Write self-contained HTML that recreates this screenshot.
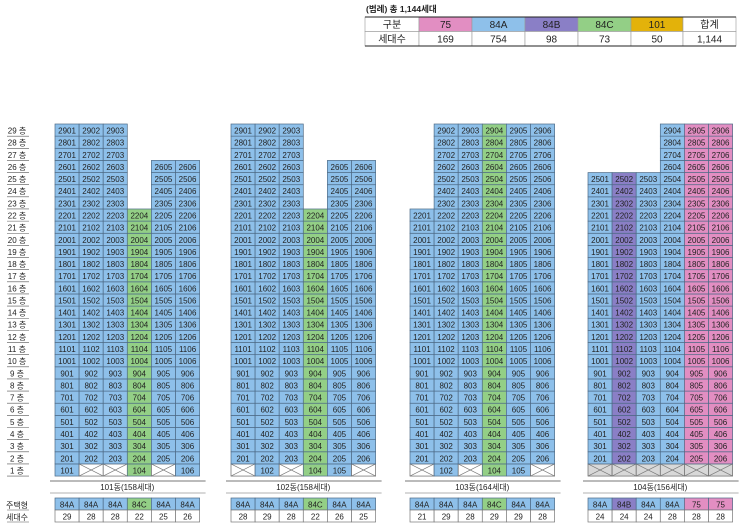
<!DOCTYPE html>
<html><head><meta charset="utf-8">
<style>
body{margin:0;background:#fff;width:740px;height:527px;overflow:hidden;font-family:"Liberation Sans","Noto Sans CJK KR",sans-serif;}
svg text{font-family:"Liberation Sans Narrow","Liberation Sans","Noto Sans CJK KR",sans-serif;}
</style></head>
<body>
<svg id="chart" width="740" height="527" viewBox="0 0 740 527"></svg>
<script>
// ---- data ----
const legendTypes = ["75","84A","84B","84C","101"];
const legendCounts = ["169","754","98","73","50"];
const legendTotal = "1,144";
const buildingNames = ["101동(158세대)","102동(158세대)","103동(164세대)","104동(156세대)"];
const colTop101 = [29,29,29,22,26,26];
const colTop102 = [29,29,29,22,26,26];
const colTop103 = [22,29,29,29,29,29];
const colTop104 = [25,25,25,29,29,29];
const colType101 = ["84A","84A","84A","84C","84A","84A"];
const colType102 = ["84A","84A","84A","84C","84A","84A"];
const colType103 = ["84A","84A","84A","84C","84A","84A"];
const colType104 = ["84A","84B","84A","84A","75","75"];
const colCount101 = [29,28,28,22,25,26];
const colCount102 = [28,29,28,22,26,25];
const colCount103 = [21,29,28,29,29,28];
const colCount104 = [24,24,24,28,28,28];
// 1st floor: 1 = unit, 0 = empty (X)
const floor1_101 = [1,0,0,1,0,1];
const floor1_102 = [0,1,0,1,1,0];
const floor1_103 = [0,1,0,1,1,0];
const floor1_104 = [0,0,0,0,0,0];

const colors = {"75":"#e28ec2","84A":"#8ec0ea","84B":"#8a7fc6","84C":"#93cf86","101":"#e3b20a"};
const NS="http://www.w3.org/2000/svg";
const svg=document.getElementById('chart');
function el(tag,attrs,parent){const e=document.createElementNS(NS,tag);for(const k in attrs)e.setAttribute(k,attrs[k]);(parent||svg).appendChild(e);return e;}
function txt(x,y,s,size,parent,anchor,weight){const t=el('text',{x:x,y:y,'font-size':size,'text-anchor':anchor||'middle','fill':'#222','font-weight':weight||'normal'},parent);t.textContent=s;return t;}

// ---- legend ----
const lg=el('g',{});


const lt=txt(366,12,"(범례) 총 1,144세대",8.5,lg,'start','bold');


const lx=[365,419,472,525,578,631,683,736];
const ly0=17, lrh=14.5;
for(let i=0;i<7;i++){
  const x=lx[i],w=lx[i+1]-lx[i];
  const fill=(i>=1&&i<=5)?colors[legendTypes[i-1]]:'#fff';
  const r1=el('rect',{x:x,y:ly0,width:w,height:lrh,fill:fill,stroke:'#999','stroke-width':0.6},lg);
  
  
  el('rect',{x:x,y:ly0+lrh,width:w,height:lrh,fill:'#fff',stroke:'#999','stroke-width':0.6},lg);
  const h=i==0?"구분":(i==6?"합계":legendTypes[i-1]);
  const c=i==0?"세대수":(i==6?legendTotal:legendCounts[i-1]);
  txt(x+w/2,ly0+11,h,10,lg);
  txt(x+w/2,ly0+lrh+11,c,10,lg);
}
el('line',{x1:365,y1:ly0,x2:736,y2:ly0,stroke:'#222','stroke-width':1},lg);
el('line',{x1:365,y1:ly0+2*lrh,x2:736,y2:ly0+2*lrh,stroke:'#222','stroke-width':1},lg);

// ---- axis functions ----
const rowTop=124, rowH=12.14, colW=24.1;
function yFloor(f){return rowTop+(29-f)*rowH;}
const bx=[55,231,410,588];

// floor labels
for(let f=29;f>=1;f--){
  const y=yFloor(f);
  const t=txt(17,y+9.5,f+" 층",8,svg);
  
  
  el('line',{x1:7,y1:y+rowH,x2:29,y2:y+rowH,stroke:'#555','stroke-width':0.6});
}
const l1=txt(17,508,"주택형",8,svg);
el('line',{x1:7,y1:510,x2:29,y2:510,stroke:'#555','stroke-width':0.6});
const l2=txt(17,520,"세대수",8,svg);
el('line',{x1:7,y1:522,x2:29,y2:522,stroke:'#555','stroke-width':0.6});

const tops=[colTop101,colTop102,colTop103,colTop104];
const types=[colType101,colType102,colType103,colType104];
const counts=[colCount101,colCount102,colCount103,colCount104];
const f1=[floor1_101,floor1_102,floor1_103,floor1_104];

for(let b=0;b<4;b++){
  const g=el('g',{});
  
  
  const x0=bx[b];
  for(let c=0;c<6;c++){
    const x=x0+c*colW;
    for(let f=1;f<=tops[b][c];f++){
      const y=yFloor(f);
      const unit=(f>1)||f1[b][c]===1;
      if(unit){
        const r=el('rect',{x:x,y:y,width:colW,height:rowH,fill:colors[types[b][c]],stroke:'#4d6a86','stroke-width':0.7},g);
        
        
        txt(x+colW/2,y+9.5,String(f*100+c+1),8,g);
      }else{
        const fill=b===3?'#d8d8d8':'#fff';
        const r=el('rect',{x:x,y:y,width:colW,height:rowH,fill:fill,stroke:'#666','stroke-width':0.7},g);
        
        
        el('line',{x1:x,y1:y,x2:x+colW,y2:y+rowH,stroke:'#777','stroke-width':0.6},g);
        el('line',{x1:x,y1:y+rowH,x2:x+colW,y2:y,stroke:'#777','stroke-width':0.6},g);
      }
    }
    // bottom type/count
    const r1=el('rect',{x:x,y:498,width:colW,height:12,fill:colors[types[b][c]],stroke:'#4d6a86','stroke-width':0.7},g);
    
    
    txt(x+colW/2,507.5,types[b][c],8,g);
    const r2=el('rect',{x:x,y:510,width:colW,height:12,fill:'#fff',stroke:'#777','stroke-width':0.7},g);
    
    
    txt(x+colW/2,519.5,String(counts[b][c]),8,g);
  }
  // caption
  const w=6*colW;
  el('line',{x1:x0-5,y1:481,x2:x0+w+6,y2:481,stroke:'#777','stroke-width':1},g);
  el('line',{x1:x0-5,y1:493,x2:x0+w+6,y2:493,stroke:'#999','stroke-width':0.8},g);
  const cap=txt(x0+w/2,490,buildingNames[b],8,g);
  
  
}
</script>
</body></html>
